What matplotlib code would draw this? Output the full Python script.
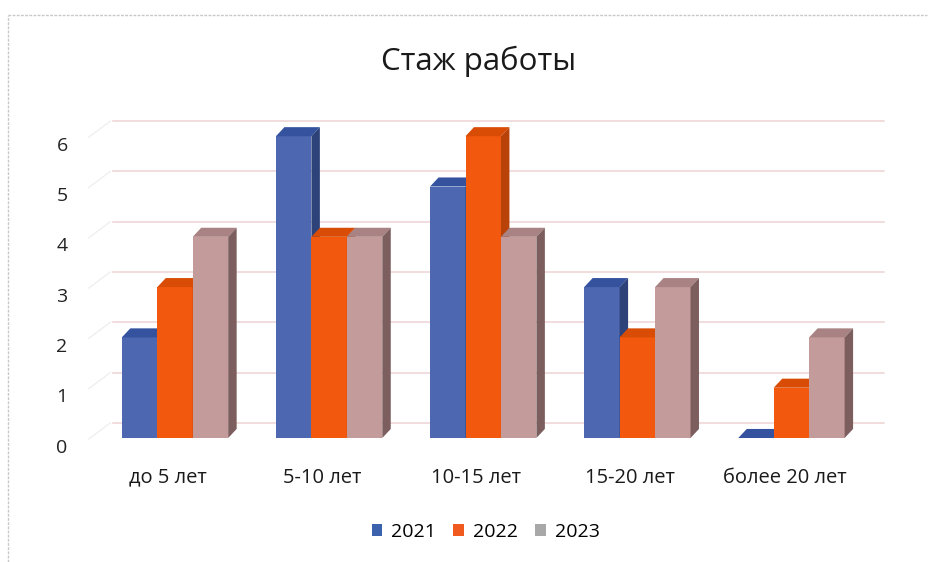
import matplotlib
matplotlib.use("Agg")
import matplotlib.pyplot as plt
from matplotlib.patches import Polygon, Patch
from matplotlib.lines import Line2D

plt.rcParams["font.family"] = ["Open Sans", "DejaVu Sans"]

categories = ["до 5 лет", "5-10 лет", "10-15 лет", "15-20 лет", "более 20 лет"]
years = ["2021", "2022", "2023"]
v2021 = [2, 6, 5, 3, 0]
v2022 = [3, 4, 6, 2, 1]
v2023 = [4, 4, 4, 3, 2]
yticks = [0, 1, 2, 3, 4, 5, 6]

front = ["#4d67b0", "#f2590f", "#c49b9b"]
top = ["#34529e", "#d84c05", "#a98383"]
side = ["#2e427a", "#b84208", "#7d5e5e"]
legend_colors = ["#3d62ad", "#f05a1e", "#a8a8a8"]

fig = plt.figure(figsize=(9.32, 5.62), dpi=100)
ax = fig.add_axes([0, 0, 1, 1])
ax.set_xlim(-1.1356, 4.912)
ax.set_ylim(-2.465, 8.708)
ax.axis("off")

width = 0.23
dx, dy = 0.055, 0.18      # depth of the pseudo-3D bars
gy = 0.30                 # back wall offset for gridlines

# back wall gridlines and the faint left wall
for t in yticks:
    ax.plot([-0.40, 4.60], [t + gy, t + gy], color="#edd3d3", lw=1.1, zorder=0)
    ax.plot([-0.56, -0.42], [t - 0.02, t + gy], color="#eeeeee", lw=0.9, zorder=0)
    ax.text(-0.733, t - 0.19, str(t), ha="center", va="center",
            fontsize=14, color="#222222")

series = [v2021, v2022, v2023]
for i, cat in enumerate(categories):
    for j, vals in enumerate(series):
        v = vals[i]
        x0 = i + (j - 1) * width - width / 2
        x1 = x0 + width
        z = 10 + i * 10 + j * 3
        ax.bar(x0, v, width=width, align="edge", color=front[j], lw=0, zorder=z)
        ax.add_patch(Polygon([(x0, v), (x0 + dx, v + dy), (x1 + dx, v + dy), (x1, v)],
                             closed=True, color=top[j], lw=0, zorder=z + 1))
        ax.add_patch(Polygon([(x1, 0), (x1 + dx, dy), (x1 + dx, v + dy), (x1, v)],
                             closed=True, color=side[j], lw=0, zorder=z + 1))
    ax.text(i - 0.045, -0.79, cat, ha="center", va="center", fontsize=14.5,
            color="#1a1a1a")

fig.text(0.513, 0.89, "Стаж работы", ha="center", va="center", fontsize=22.5,
         color="#1a1a1a")

handles = [Patch(facecolor=c, edgecolor="none") for c in legend_colors]
fig.legend(handles, years, loc="center", bbox_to_anchor=(0.521, 0.053), ncol=3,
           frameon=False, fontsize=14, handlelength=0.55, handleheight=0.55,
           handletextpad=0.45, columnspacing=0.9)

# chart frame (left and top edges visible in the scan)
fig.add_artist(Line2D([0.009, 0.009], [0.0, 0.973], color="#c8c8c8", lw=1,
                      ls=(0, (2, 1)), transform=fig.transFigure))
fig.add_artist(Line2D([0.009, 0.995], [0.973, 0.973], color="#c8c8c8", lw=1,
                      ls=(0, (2, 1)), transform=fig.transFigure))

fig.savefig("out.png", dpi=100)
